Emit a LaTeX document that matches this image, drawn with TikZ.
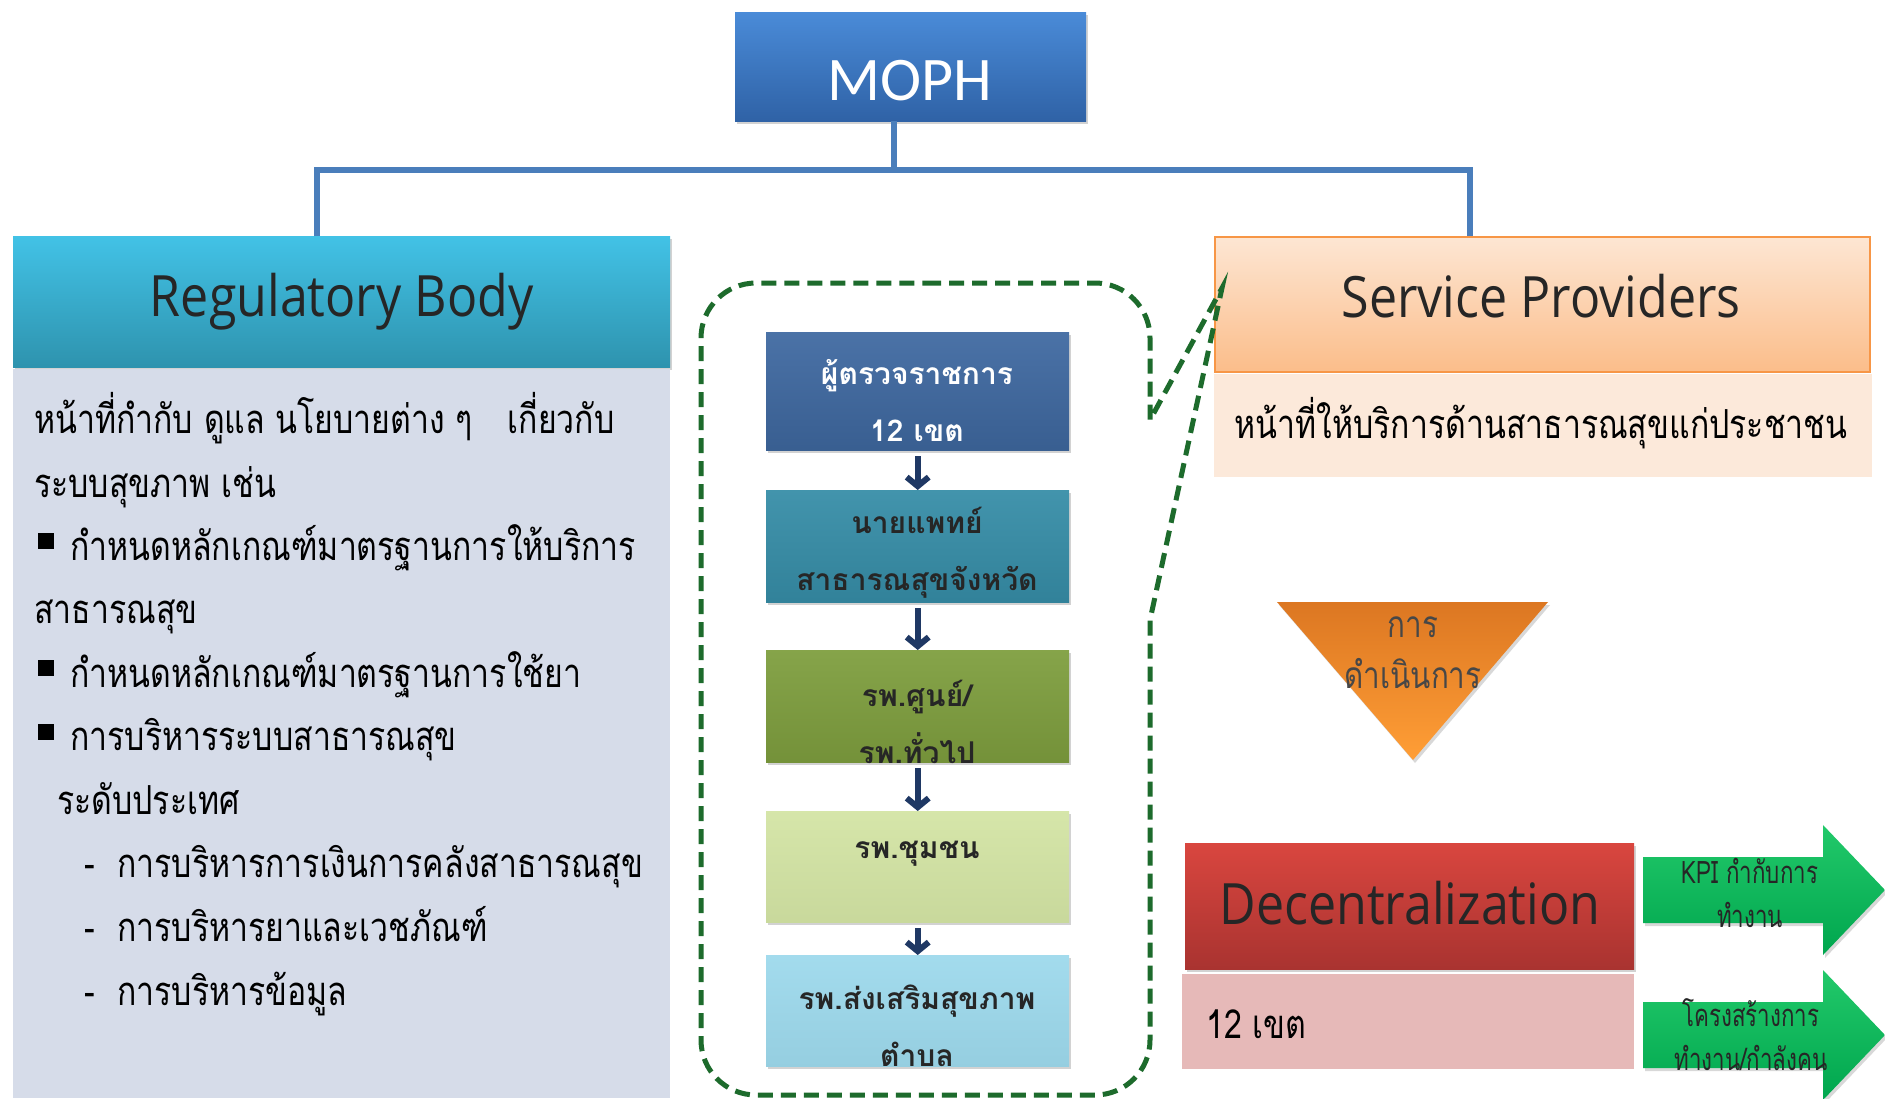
\documentclass[tikz,border=0pt]{standalone}
\usepackage{fontspec}
\usetikzlibrary{shadows,arrows.meta,calc}
\newfontfamily\thaifont[Script=Thai,FakeStretch=0.8]{Loma}
\newfontfamily\thaibox[Script=Thai]{Loma}
\newfontfamily\thainarrow[Script=Thai,FakeStretch=0.72]{Loma}
\newfontfamily\headfont[FakeStretch=0.88]{Open Sans}
\newfontfamily\mophfont{Carlito}
\definecolor{mophT}{HTML}{4A8BD8}
\definecolor{mophB}{HTML}{2F62A6}
\definecolor{conn}{HTML}{4A7EBB}
\definecolor{regT}{HTML}{42C2E6}
\definecolor{regB}{HTML}{2E93AE}
\definecolor{regP}{HTML}{D6DCE9}
\definecolor{bxA}{HTML}{3F69A1}
\definecolor{bxB}{HTML}{368DA7}
\definecolor{bxC}{HTML}{7E9E3E}
\definecolor{bxD}{HTML}{D3E4A4}
\definecolor{bxE}{HTML}{9DD9EC}
\definecolor{navy}{HTML}{1F3864}
\definecolor{gdash}{HTML}{1D6B2C}
\definecolor{spT}{HTML}{FDE6D3}
\definecolor{spB}{HTML}{FBBD8A}
\definecolor{spE}{HTML}{F79646}
\definecolor{spP}{HTML}{FCE9DA}
\definecolor{triT}{HTML}{DC7722}
\definecolor{triB}{HTML}{FF9E36}
\definecolor{decT}{HTML}{D9463F}
\definecolor{decB}{HTML}{A93330}
\definecolor{decP}{HTML}{E6B9B8}
\definecolor{grT}{HTML}{22C96A}
\definecolor{grB}{HTML}{00A64E}
\definecolor{ink}{HTML}{262626}
\begin{document}
\begin{tikzpicture}[x=1pt,y=1pt,
  bevel/.style={rectangle, draw=none, inner sep=0pt, anchor=north west,
    drop shadow={opacity=0.35, shadow xshift=2pt, shadow yshift=-3pt}},
  flat/.style={rectangle, draw=none, inner sep=0pt, anchor=north west},
  conline/.style={draw=conn, line width=6pt},
  headtxt/.style={inner sep=0pt, font=\headfont\fontsize{57}{60}\selectfont, text=ink},
  lefttxt/.style={anchor=base west, inner sep=0pt, font=\thaifont\fontsize{40}{48}\selectfont, text=black},
  boxtxt/.style={align=center, inner sep=0pt, font=\thaibox\bfseries\fontsize{30}{57}\selectfont, text=ink},
  downarrow/.style={draw=navy, line width=6pt, -{Straight Barb[length=9pt,width=22pt]}, shorten <=6pt},
  gdashed/.style={draw=gdash, line width=5pt, dash pattern=on 15pt off 8pt},
  greenarrow/.style={top color=grT, bottom color=grB, draw=none},
  arrtxt/.style={align=center, inner sep=0pt, font=\thainarrow\fontsize{31}{44}\selectfont, text=ink}
]
\useasboundingbox (0,0) rectangle (1885,-1098);
\fill[white] (0,0) rectangle (1885,-1098);

% MOPH
\node[bevel, top color=mophT, bottom color=mophB, minimum width=351pt, minimum height=109pt] (moph) at (735,-12) {};
\node[inner sep=0pt, font=\mophfont\fontsize{62}{62}\selectfont, text=white] (mopht) at (910,-81) {MOPH};

% headers
\node[bevel, top color=regT, bottom color=regB, minimum width=657pt, minimum height=131pt] (reg) at (13,-236) {};
\node[headtxt] (regt) at (reg.center) {Regulatory Body};
\node[flat, fill=regP, minimum width=657pt, minimum height=729pt] (regp) at (13,-369) {};
\node[flat, top color=spT, bottom color=spB, draw=spE, line width=2pt, minimum width=655pt, minimum height=135pt] (sp) at (1214,-236) {};
\node[headtxt] (spt0) at (1541,-296) {Service Providers};
\node[flat, fill=spP, minimum width=658pt, minimum height=103pt] (spp) at (1214,-374) {};
\node[inner sep=0pt, font=\thaifont\fontsize{40}{48}\selectfont, text=black] (spt) at (1541,-423) {หน้าที่ให้บริการด้านสาธารณสุขแก่ประชาชน};

% connectors
\coordinate (jm) at (894,-170);
\coordinate (jl) at (317,-170);
\coordinate (jr) at (1470,-170);
\draw[conline] (moph.south -| jm) -- (jm);
\draw[conline] (reg.north -| jl) -- (jl) -- (jr) -- (sp.north -| jr);

% left panel text
\node[lefttxt] (l1) at (34,-433) {หน้าที่กำกับ ดูแล นโยบายต่าง ๆ\hspace{24pt} เกี่ยวกับ};
\node[lefttxt] (l2) at (34,-497) {ระบบสุขภาพ เช่น};
\node[lefttxt] (l3) at (70,-560) {กำหนดหลักเกณฑ์มาตรฐานการให้บริการ};
\node[lefttxt] (l4) at (34,-623) {สาธารณสุข};
\node[lefttxt] (l5) at (70,-687) {กำหนดหลักเกณฑ์มาตรฐานการใช้ยา};
\node[lefttxt] (l6) at (70,-750) {การบริหารระบบสาธารณสุข};
\node[lefttxt] (l7) at (57,-814) {ระดับประเทศ};
\node[lefttxt] (l8) at (117,-877) {การบริหารการเงินการคลังสาธารณสุข};
\node[lefttxt] (l9) at (117,-941) {การบริหารยาและเวชภัณฑ์};
\node[lefttxt] (l10) at (117,-1005) {การบริหารข้อมูล};
\foreach \yy in {533,660,724} \fill[black] (38,-\yy) rectangle (54,-\yy-16);
\node[lefttxt] (d1) at (84,-877) {-};
\node[lefttxt] (d2) at (84,-941) {-};
\node[lefttxt] (d3) at (84,-1005) {-};

% centre boxes
\node[bevel, top color=bxA!94!white, bottom color=bxA!90!black, minimum width=303pt, minimum height=118pt] (b1) at (766,-332) {};
\node[bevel, top color=bxB!94!white, bottom color=bxB!92!black, minimum width=303pt, minimum height=112pt] (b2) at (766,-490) {};
\node[bevel, top color=bxC!94!white, bottom color=bxC!92!black, minimum width=303pt, minimum height=112pt] (b3) at (766,-650) {};
\node[bevel, top color=bxD!94!white, bottom color=bxD!95!black, minimum width=303pt, minimum height=111pt] (b4) at (766,-811) {};
\node[bevel, top color=bxE!94!white, bottom color=bxE!95!black, minimum width=303pt, minimum height=111pt] (b5) at (766,-955) {};
\node[boxtxt, text=white] (t1) at (917,-401) {ผู้ตรวจราชการ\\12 เขต};
\node[boxtxt] (t2) at (917,-553) {นายแพทย์\\สาธารณสุขจังหวัด};
\node[boxtxt] (t3) at (917,-722) {รพ.ศูนย์/\\รพ.ทั่วไป};
\node[boxtxt] (t4) at (917,-854) {รพ.ชุมชน};
\node[boxtxt] (t5) at (917,-1026) {รพ.ส่งเสริมสุขภาพ\\ตำบล};
\draw[downarrow] (b1.south) -- (b2.north);
\draw[downarrow] (b2.south) -- (b3.north);
\draw[downarrow] (b3.south) -- (b4.north);
\draw[downarrow] (b4.south) -- (b5.north);

% dashed callout
\coordinate (tip) at (1222,-288);
\draw[gdashed] (926,-283) -- (1095,-283) arc[start angle=90, end angle=0, radius=55] -- (1150,-420) -- (tip) -- (1150,-620)
  -- (1150,-1040) arc[start angle=0, end angle=-90, radius=55] -- (756,-1095) arc[start angle=-90, end angle=-180, radius=55]
  -- (701,-338) arc[start angle=180, end angle=90, radius=55] -- cycle;

% triangle
\path[top color=triT, bottom color=triB, drop shadow={opacity=0.3, shadow xshift=2pt, shadow yshift=-3pt}] (1277,-602) -- (1548,-602) -- (1413,-760) -- cycle;
\node[align=center, inner sep=0pt, font=\thaifont\fontsize{37}{51}\selectfont, text=black!72] (tri) at (1413,-653) {การ\\ดำเนินการ};

% decentralization
\node[bevel, top color=decT, bottom color=decB, minimum width=449pt, minimum height=126pt] (dec) at (1185,-843) {};
\node[headtxt] (dect) at (1410,-903) {Decentralization};
\node[flat, fill=decP, minimum width=452pt, minimum height=95pt] (decp) at (1182,-974) {};
\node[anchor=west, inner sep=0pt, font=\thaifont\fontsize{40}{48}\selectfont, text=black] (z12) at (1206,-1024) {12 เขต};

% green arrows
\path[greenarrow, drop shadow={opacity=0.3, shadow xshift=2pt, shadow yshift=-3pt}] (1643,-857) -- (1823,-857) -- (1823,-825) -- (1885,-890) -- (1823,-955) -- (1823,-923) -- (1643,-923) -- cycle;
\path[greenarrow, drop shadow={opacity=0.3, shadow xshift=2pt, shadow yshift=-3pt}] (1643,-1002) -- (1823,-1002) -- (1823,-970) -- (1885,-1035) -- (1823,-1100) -- (1823,-1068) -- (1643,-1068) -- cycle;
\node[arrtxt] (g1) at (1750,-893) {KPI กำกับการ\\ทำงาน};
\node[arrtxt] (g2) at (1751,-1035) {โครงสร้างการ\\ทำงาน/กำลังคน};
\end{tikzpicture}
\end{document}
